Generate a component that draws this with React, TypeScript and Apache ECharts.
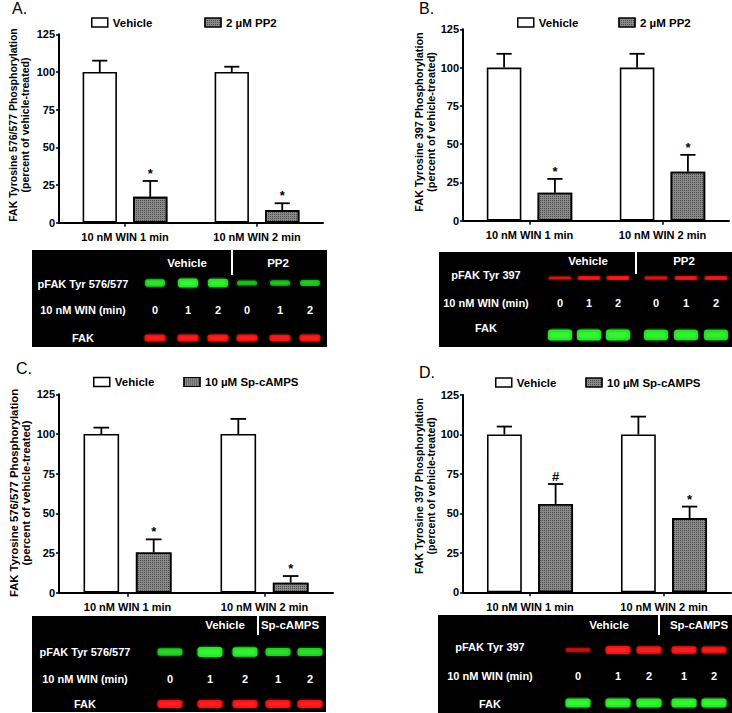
import React, { useEffect, useRef } from "react";
import * as echarts from "echarts";

// ---------------- DATA ----------------
const categories = ["10 nM WIN 1 min", "10 nM WIN 2 min"];
const yMin = 0;
const yMax = 125;
const yInterval = 25;

// Panel A (FAK Tyr 576/577, PP2)
const vehicleA = [100, 100];
const vehicleErrA = [7.5, 3.5];
const drugA = [17.2, 8.4];
const drugErrA = [10.5, 4.5];
const markA = ["*", "*"];

// Panel B (FAK Tyr 397, PP2)
const vehicleB = [100, 100];
const vehicleErrB = [9, 9];
const drugB = [18.3, 32];
const drugErrB = [9, 11];
const markB = ["*", "*"];

// Panel C (FAK Tyr 576/577, Sp-cAMPS)
const vehicleC = [100, 100];
const vehicleErrC = [4, 9.5];
const drugC = [25.4, 6.3];
const drugErrC = [8.2, 4.2];
const markC = ["*", "*"];

// Panel D (FAK Tyr 397, Sp-cAMPS)
const vehicleD = [100, 100];
const vehicleErrD = [5, 11.3];
const drugD = [56, 47];
const drugErrD = [12.6, 7.3];
const markD = ["#", "*"];

const vehicleName = "Vehicle";
const pp2Name = "2 µM PP2";
const spName = "10 µM Sp-cAMPS";

const titleTyr576 = "FAK Tyrosine 576/577 Phosphorylation\n(percent of vehicle-treated)";
const titleTyr397 = "FAK Tyrosine 397 Phosphorylation\n(percent of vehicle-treated)";

// Blot annotations / band densities (0..1)
const blotRowLabels576 = ["pFAK Tyr 576/577", "10 nM WIN (min)", "FAK"];
const blotRowLabels397 = ["pFAK Tyr 397", "10 nM WIN (min)", "FAK"];
const headersPP2 = ["Vehicle", "PP2"];
const headersSp = ["Vehicle", "Sp-cAMPS"];

const lanesA = ["0", "1", "2", "0", "1", "2"];
const pfakA = [0.75, 1, 0.95, 0.35, 0.4, 0.45];
const fakA = [0.95, 0.95, 1, 0.95, 0.9, 0.95];

const lanesB = ["0", "1", "2", "0", "1", "2"];
const pfakB = [0.55, 0.8, 0.9, 0.6, 0.8, 0.75];
const fakB = [1, 1, 1, 0.95, 0.95, 0.9];

const lanesC = ["0", "1", "2", "1", "2"];
const pfakC = [0.6, 1, 0.95, 0.7, 0.7];
const fakC = [1, 1, 1, 1, 1];

const lanesD = ["0", "1", "2", "1", "2"];
const pfakD = [0.3, 1, 0.95, 0.95, 0.85];
const fakD = [1, 1, 1, 1, 1];

// ---------------- LAYOUT ----------------
const FONT = "'Liberation Sans', Arial, Helvetica, sans-serif";
const BAR_RATIO = 0.26;
const BAR_GAP = 0.47;

const GREEN = [40, 230, 40];
const RED = [240, 20, 20];

const drugStyle = {
  color: "#8a8a8a",
  borderColor: "#000",
  borderWidth: 1.6,
  decal: {
    symbol: "rect",
    symbolSize: 1,
    color: "rgba(35,35,35,0.6)",
    dashArrayX: [1, 1],
    dashArrayY: [1, 1],
    rotation: 0,
  },
};
const vehicleStyle = { color: "#fff", borderColor: "#000", borderWidth: 1.6 };

const panels = [
  {
    letter: "A.", letterPos: [12, 8],
    grid: { left: 59, top: 34.3, width: 264, height: 188.4 },
    legend: { left: 91, top: 16.5, gap: 52 },
    drugName: pp2Name, title: titleTyr576, titlePos: [19, 125], titleFont: 10.5,
    vehicle: vehicleA, vehicleErr: vehicleErrA, drug: drugA, drugErr: drugErrA, marks: markA,
    blot: {
      box: [32, 250, 295, 97], headers: headersPP2, headerX: [187, 278], headerY: 263,
      divider: [232, 250, 275], labelX: 83, labels: blotRowLabels576,
      labelY: [284, 310, 338], bandY: [283, 338], lanePx: [155, 188, 218, 247, 280, 310],
      lanes: lanesA, pfak: pfakA, fak: fakA, pfakColor: GREEN, fakColor: RED,
      pfakSize: [20, 9], fakSize: [21, 7],
    },
  },
  {
    letter: "B.", letterPos: [419, 8],
    grid: { left: 463, top: 29.3, width: 266, height: 191.4 },
    legend: { left: 517, top: 16.5, gap: 40 },
    drugName: pp2Name, title: titleTyr397, titlePos: [425, 122], titleFont: 10.9,
    vehicle: vehicleB, vehicleErr: vehicleErrB, drug: drugB, drugErr: drugErrB, marks: markB,
    blot: {
      box: [439, 252, 293, 95], headers: headersPP2, headerX: [588, 684], headerY: 261,
      divider: [636, 252, 274], labelX: 486, labels: blotRowLabels397,
      labelY: [275, 303, 328], bandY: [278, 335], lanePx: [560, 589, 618, 656, 686, 716],
      lanes: lanesB, pfak: pfakB, fak: fakB, pfakColor: RED, fakColor: GREEN,
      pfakSize: [23, 4.5], fakSize: [24, 11],
    },
  },
  {
    letter: "C.", letterPos: [16, 368],
    grid: { left: 59, top: 394.3, width: 274, height: 198.4 },
    legend: { left: 93, top: 376, gap: 29 },
    drugName: spName, title: titleTyr576, titlePos: [20, 493], titleFont: 11.3,
    vehicle: vehicleC, vehicleErr: vehicleErrC, drug: drugC, drugErr: drugErrC, marks: markC,
    blot: {
      box: [32, 616, 294, 96], headers: headersSp, headerX: [225, 290], headerY: 625,
      divider: [258, 616, 635], labelX: 85, labels: blotRowLabels576,
      labelY: [652, 679, 704], bandY: [652, 704], lanePx: [170, 210, 245, 278, 310],
      lanes: lanesC, pfak: pfakC, fak: fakC, pfakColor: GREEN, fakColor: RED,
      pfakSize: [25, 10], fakSize: [25, 8],
    },
  },
  {
    letter: "D.", letterPos: [419, 372],
    grid: { left: 463, top: 395, width: 268, height: 197.3 },
    legend: { left: 495, top: 376.5, gap: 29 },
    drugName: spName, title: titleTyr397, titlePos: [425, 486], titleFont: 10.7,
    vehicle: vehicleD, vehicleErr: vehicleErrD, drug: drugD, drugErr: drugErrD, marks: markD,
    blot: {
      box: [438, 615, 294, 98], headers: headersSp, headerX: [609, 699], headerY: 625,
      divider: [659, 615, 635], labelX: 490, labels: blotRowLabels397,
      labelY: [647, 676, 704], bandY: [650, 703], lanePx: [578, 618, 649, 684, 714],
      lanes: lanesD, pfak: pfakD, fak: fakD, pfakColor: RED, fakColor: GREEN,
      pfakSize: [25, 8], fakSize: [25, 9],
    },
  },
];

function rgba(c: number[], a: number) {
  return `rgba(${c[0]},${c[1]},${c[2]},${a})`;
}

function bandElements(lanePx: number[], y: number, vals: number[], color: number[], size: number[]) {
  const els: any[] = [];
  vals.forEach((v, i) => {
    const h = size[1] * (0.35 + 0.65 * v);
    const w = size[0];
    // soft halo
    els.push({
      type: "rect", silent: true,
      shape: { x: lanePx[i] - w / 2 - 1.5, y: y - h / 2 - 1.5, width: w + 3, height: h + 3, r: (h + 3) / 2 },
      style: { fill: rgba(color, 0.25 * (0.4 + 0.6 * v)) },
    });
    els.push({
      type: "rect", silent: true,
      shape: { x: lanePx[i] - w / 2, y: y - h / 2, width: w, height: h, r: Math.min(h / 2, 3) },
      style: { fill: rgba(color, 0.55 + 0.45 * v) },
    });
    // brighter core
    els.push({
      type: "rect", silent: true,
      shape: { x: lanePx[i] - w / 2 + 2, y: y - h * 0.25, width: w - 4, height: h * 0.5, r: h * 0.25 },
      style: { fill: rgba(color.map((c) => Math.min(255, c + 25)), 0.5 * v) },
    });
  });
  return els;
}

function blotElements(b: any) {
  const els: any[] = [];
  const [bx, by, bw, bh] = b.box;
  els.push({ type: "rect", silent: true, shape: { x: bx, y: by, width: bw, height: bh }, style: { fill: "#000" } });
  b.headers.forEach((h: string, i: number) => {
    els.push({
      type: "text", silent: true, x: b.headerX[i], y: b.headerY,
      style: { text: h, fill: "#fff", font: `bold 11.5px ${FONT}`, textAlign: "center", textVerticalAlign: "middle" },
    });
  });
  els.push({
    type: "line", silent: true,
    shape: { x1: b.divider[0], y1: b.divider[1], x2: b.divider[0], y2: b.divider[2] },
    style: { stroke: "#fff", lineWidth: 2 },
  });
  b.labels.forEach((t: string, i: number) => {
    els.push({
      type: "text", silent: true, x: b.labelX, y: b.labelY[i],
      style: { text: t, fill: "#fff", font: `bold 11px ${FONT}`, textAlign: "center", textVerticalAlign: "middle" },
    });
  });
  b.lanes.forEach((t: string, i: number) => {
    els.push({
      type: "text", silent: true, x: b.lanePx[i], y: b.labelY[1],
      style: { text: t, fill: "#fff", font: `bold 11px ${FONT}`, textAlign: "center", textVerticalAlign: "middle" },
    });
  });
  els.push(...bandElements(b.lanePx, b.bandY[0], b.pfak, b.pfakColor, b.pfakSize));
  els.push(...bandElements(b.lanePx, b.bandY[1], b.fak, b.fakColor, b.fakSize));
  return els;
}

function buildOption() {
  const grid: any[] = [];
  const xAxis: any[] = [];
  const yAxis: any[] = [];
  const series: any[] = [];
  const legend: any[] = [];
  const graphics: any[] = [];

  panels.forEach((p, i) => {
    grid.push({ ...p.grid, containLabel: false });
    xAxis.push({
      type: "category",
      gridIndex: i,
      data: categories,
      axisLine: { show: true, lineStyle: { color: "#000", width: 2 } },
      axisTick: { show: true, alignWithLabel: true, length: 4, lineStyle: { color: "#000", width: 1.5 } },
      axisLabel: { color: "#000", fontWeight: "bold", fontSize: 11, fontFamily: FONT, margin: 9 },
      splitLine: { show: false },
    });
    yAxis.push({
      type: "value",
      gridIndex: i,
      min: yMin,
      max: yMax,
      interval: yInterval,
      axisLine: { show: true, lineStyle: { color: "#000", width: 2 } },
      axisTick: { show: true, length: 3, lineStyle: { color: "#000", width: 1.5 } },
      axisLabel: { color: "#000", fontWeight: "bold", fontSize: 11, fontFamily: FONT, margin: 4 },
      splitLine: { show: false },
    });
    series.push({
      type: "bar", name: vehicleName, xAxisIndex: i, yAxisIndex: i,
      data: p.vehicle, barWidth: `${BAR_RATIO * 100}%`, barGap: `${BAR_GAP * 100}%`,
      itemStyle: vehicleStyle, z: 2,
    });
    series.push({
      type: "bar", name: p.drugName, xAxisIndex: i, yAxisIndex: i,
      data: p.drug, barWidth: `${BAR_RATIO * 100}%`, barGap: `${BAR_GAP * 100}%`,
      itemStyle: drugStyle, z: 2,
    });
    const errData: any[] = [];
    const marks: string[] = [];
    p.vehicle.forEach((v, k) => { errData.push([k, v, p.vehicleErr[k], 0]); marks.push(""); });
    p.drug.forEach((v, k) => { errData.push([k, v, p.drugErr[k], 1]); marks.push(p.marks[k]); });
    series.push({
      type: "custom", name: `err${i}`, xAxisIndex: i, yAxisIndex: i, z: 5,
      data: errData,
      encode: { x: 0, y: 1 },
      renderItem: (params: any, api: any) => {
        const cat = api.value(0);
        const mean = api.value(1);
        const err = api.value(2);
        const which = api.value(3);
        const bandW = api.size([1, 0])[0];
        const barW = bandW * BAR_RATIO;
        const off = (which === 0 ? -1 : 1) * (barW + barW * BAR_GAP) / 2;
        const base = api.coord([cat, mean]);
        const top = api.coord([cat, mean + err]);
        const x = base[0] + off;
        const cap = barW * 0.22;
        const children: any[] = [
          { type: "line", shape: { x1: x, y1: base[1], x2: x, y2: top[1] }, style: { stroke: "#000", lineWidth: 1.8 } },
          { type: "line", shape: { x1: x - cap, y1: top[1], x2: x + cap, y2: top[1] }, style: { stroke: "#000", lineWidth: 1.8 } },
        ];
        const m = marks[params.dataIndex];
        if (m) {
          children.push({
            type: "text", x, y: top[1] - 1,
            style: { text: m, fill: "#000", font: `bold 13px ${FONT}`, textAlign: "center", textVerticalAlign: "bottom" },
          });
        }
        return { type: "group", children };
      },
    });
    legend.push({
      left: p.legend.left,
      top: p.legend.top,
      padding: 0,
      itemWidth: 16,
      itemHeight: 9,
      itemGap: p.legend.gap,
      selectedMode: false,
      textStyle: { color: "#000", fontWeight: "bold", fontSize: 11.5, fontFamily: FONT },
      data: [
        { name: vehicleName, icon: "rect", itemStyle: { color: "#fff", borderColor: "#000", borderWidth: 1.5 } },
        { name: p.drugName, icon: "rect", itemStyle: { ...drugStyle, borderWidth: 1.2 } },
      ],
    });
    graphics.push({
      type: "text", silent: true, x: p.letterPos[0], y: p.letterPos[1],
      style: { text: p.letter, fill: "#000", font: `16px ${FONT}`, textAlign: "left", textVerticalAlign: "middle" },
    });
    graphics.push({
      type: "text", silent: true, x: p.titlePos[0], y: p.titlePos[1], rotation: Math.PI / 2,
      style: {
        text: p.title, fill: "#000", font: `bold ${p.titleFont}px ${FONT}`,
        textAlign: "center", textVerticalAlign: "middle", lineHeight: p.titleFont * 1.15,
      },
    });
    graphics.push(...blotElements(p.blot));
  });

  return {
    animation: false,
    backgroundColor: "#fff",
    grid,
    xAxis,
    yAxis,
    legend,
    series,
    graphic: { elements: graphics },
  };
}

export default function App() {
  const ref = useRef<HTMLDivElement>(null);
  useEffect(() => {
    document.body.style.margin = "0";
    if (!ref.current) return;
    const chart = echarts.init(ref.current, null, { renderer: "svg" });
    chart.setOption(buildOption() as any);
    return () => chart.dispose();
  }, []);
  return <div ref={ref} style={{ width: 732, height: 713, background: "#fff" }} />;
}
